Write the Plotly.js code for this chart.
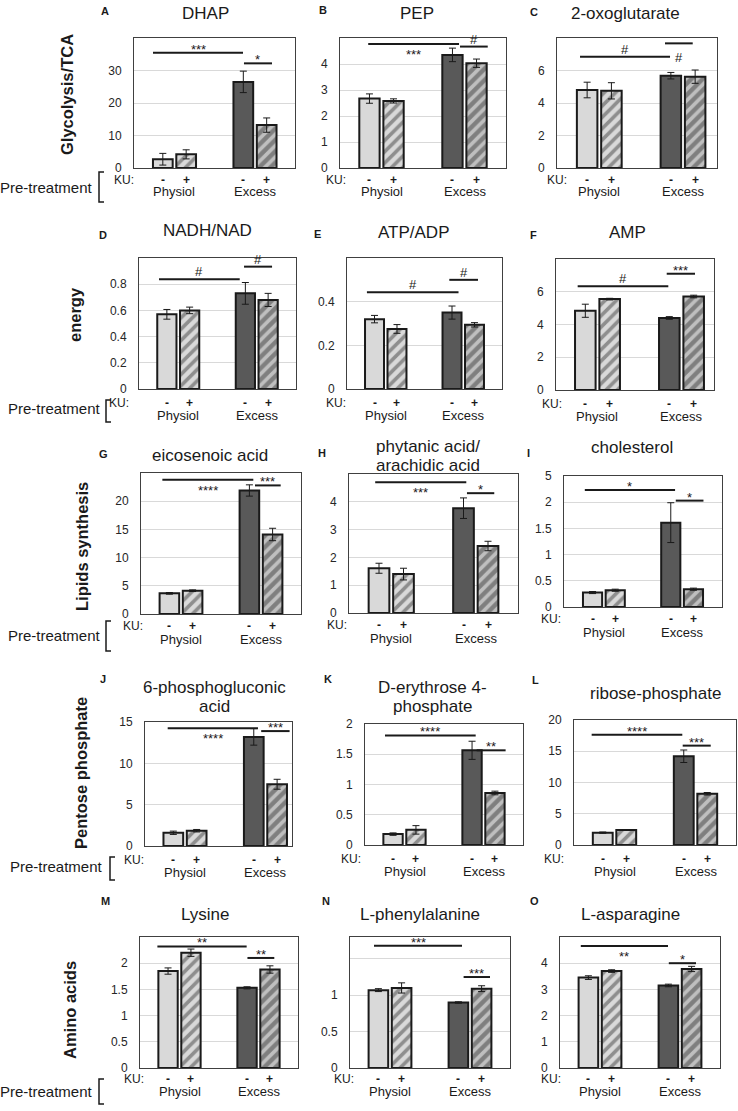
<!DOCTYPE html>
<html><head><meta charset="utf-8">
<script src="https://cdn.plot.ly/plotly-3.0.1.min.js"></script>
<style>html,body{margin:0;padding:0;background:#fff;}#chart{width:738px;height:1111px;}</style>
</head><body><div id="chart"></div>
<script>
const W = 738, H = 1111;
const FONT = 'Liberation Sans, Arial, sans-serif';

// ---------- data ----------
const categories = ['Physiol', 'Excess'];
const kuSigns = ['-', '+'];
const panelLetters = ['A','B','C','D','E','F','G','H','I','J','K','L','M','N','O'];
const panelTitles = ['DHAP','PEP','2-oxoglutarate','NADH/NAD','ATP/ADP','AMP','eicosenoic acid',
  'phytanic acid/<br>arachidic acid','cholesterol','6-phosphogluconic<br>acid','D-erythrose 4-<br>phosphate',
  'ribose-phosphate','Lysine','L-phenylalanine','L-asparagine'];
const rowLabels = ['Glycolysis/TCA','energy','Lipids synthesis','Pentose phosphate','Amino acids'];

// bar order: Physiol KU-, Physiol KU+, Excess KU-, Excess KU+
const dhapMean = [2.7, 4.2, 26.5, 13.2],   dhapErr = [1.8, 1.4, 3.3, 2.2];
const pepMean  = [2.67, 2.58, 4.35, 4.03], pepErr  = [0.18, 0.08, 0.26, 0.16];
const oxoMean  = [4.8, 4.75, 5.68, 5.62],  oxoErr  = [0.48, 0.5, 0.2, 0.41];
const nadhMean = [0.57, 0.6, 0.73, 0.68],  nadhErr = [0.037, 0.025, 0.083, 0.05];
const atpMean  = [0.32, 0.275, 0.35, 0.294], atpErr = [0.017, 0.02, 0.03, 0.01];
const ampMean  = [4.84, 5.55, 4.4, 5.71],  ampErr  = [0.4, 0.05, 0.08, 0.08];
const eicoMean = [3.66, 4.13, 21.9, 14.1], eicoErr = [0.15, 0.15, 1.0, 1.1];
const phytMean = [1.61, 1.4, 3.77, 2.41],  phytErr = [0.18, 0.21, 0.37, 0.17];
const cholMean = [0.276, 0.32, 1.61, 0.34], cholErr = [0.02, 0.02, 0.38, 0.02];
const pgaMean  = [1.6, 1.85, 13.2, 7.47],  pgaErr  = [0.2, 0.15, 1.0, 0.6];
const e4pMean  = [0.18, 0.25, 1.565, 0.86], e4pErr = [0.02, 0.07, 0.15, 0.03];
const ribMean  = [1.98, 2.4, 14.2, 8.2],   ribErr  = [0.1, 0.05, 1.0, 0.2];
const lysMean  = [1.85, 2.2, 1.53, 1.88],  lysErr  = [0.06, 0.07, 0.02, 0.07];
const pheMean  = [1.07, 1.1, 0.9, 1.09],   pheErr  = [0.02, 0.07, 0.01, 0.04];
const asnMean  = [3.45, 3.7, 3.15, 3.78],  asnErr  = [0.07, 0.05, 0.05, 0.1];

const sigLabels = [['***','*'],['***','#'],['#','#'],['#','#'],['#','#'],['#','***'],
  ['****','***'],['***','*'],['*','*'],['****','***'],['****','**'],['****','***'],
  ['**','**'],['***','***'],['**','*']];

const means = [dhapMean,pepMean,oxoMean,nadhMean,atpMean,ampMean,eicoMean,phytMean,cholMean,pgaMean,e4pMean,ribMean,lysMean,pheMean,asnMean];
const errs  = [dhapErr,pepErr,oxoErr,nadhErr,atpErr,ampErr,eicoErr,phytErr,cholErr,pgaErr,e4pErr,ribErr,lysErr,pheErr,asnErr];

// ---------- layout geometry (pixels) ----------
const panels = [
 {l:134,r:295,t:38,b:168,xr:[-0.503,1.497],yMax:40,dt:10},
 {l:340,r:506,t:38,b:168,xr:[-0.5,1.5],yMax:5,dt:1},
 {l:557,r:717,t:38,b:168,xr:[-0.505,1.406],yMax:8,dt:2},
 {l:139,r:296,t:258,b:389,xr:[-0.5,1.5],yMax:1,dt:0.2},
 {l:347,r:502,t:258,b:389,xr:[-0.5,1.5],yMax:0.6,dt:0.2},
 {l:556,r:714,t:259,b:390,xr:[-0.494,1.387],yMax:8,dt:2},
 {l:141,r:301,t:473,b:614,xr:[-0.5,1.5],yMax:25,dt:5},
 {l:349,r:518,t:474,b:613,xr:[-0.5,1.5],yMax:5,dt:1},
 {l:564,r:722,t:476,b:607,xr:[-0.51,1.51],yMax:2.5,dt:0.5,topLabel:'5'},
 {l:145,r:292,t:722,b:846,xr:[-0.497,1.33],yMax:15,dt:5,topLabel:'15'},
 {l:365,r:523,t:724,b:845,xr:[-0.5,1.5],yMax:2,dt:0.5,topLabel:'2'},
 {l:574,r:736,t:720,b:845,xr:[-0.5,1.5],yMax:20,dt:5,topLabel:'20'},
 {l:140,r:298,t:937,b:1068,xr:[-0.5,1.5],yMax:2.5,dt:0.5},
 {l:350,r:510,t:937,b:1068,xr:[-0.5,1.5],yMax:1.8,dt:0.5,hideAbove:1},
 {l:560,r:720,t:937,b:1068,xr:[-0.5,1.5],yMax:5,dt:1}
];
const kuRight = [135,347,568,130,347,563,144,348,562,145,362,565,145,355,562];
const titlePos = [[205,14],[417,14],[625,14],[207,231],[413,232],[627,232],[210,455],[428,456],[632,448],
  [215,697],[432,697],[655,693],[205,914],[420,914],[630,914]];
const letterPos = [[105,11],[323,10],[534,12],[103,235],[317,234],[533,235],[103,454],[322,453],[528,453],
  [103,679],[328,679],[535,680],[105,901],[326,901],[534,901]];
// significance brackets: [x0, x1, y (data units), text above 'a' / below 'b']
const sigGeom = [
 [[-0.267,0.851,35.5,'a'],[0.863,1.211,32.2,'a']],
 [[-0.16,0.934,4.77,'b'],[0.946,1.28,4.67,'a']],
 [[-0.23,0.845,6.85,'a'],[0.785,1.116,7.67,'b']],
 [[-0.245,0.783,0.837,'a'],[0.838,1.195,0.934,'a']],
 [[-0.243,0.939,0.443,'a'],[0.82,1.19,0.5,'a']],
 [[-0.236,0.843,6.33,'a'],[0.824,1.161,7.1,'a']],
 [[-0.233,0.904,23.8,'b'],[0.925,1.246,22.8,'a']],
 [[-0.19,0.888,4.7,'b'],[0.896,1.219,4.31,'a']],
 [[-0.244,0.91,2.235,'a'],[0.919,1.273,2.03,'a']],
 [[-0.215,0.907,14.25,'b'],[0.947,1.3,13.9,'a']],
 [[-0.247,0.901,1.81,'a'],[0.914,1.28,1.565,'a']],
 [[-0.282,0.837,17.66,'a'],[0.842,1.188,15.9,'a']],
 [[-0.28,0.85,2.32,'a'],[0.86,1.2,2.1,'a']],
 [[-0.2,0.9,1.68,'a'],[0.92,1.25,1.25,'a']],
 [[-0.24,0.85,4.66,'b'],[0.86,1.2,4.0,'a']]
];
const rowGeom = [
 {ku:12,cat:24,ptY:188,ptR:95,brX:99,brT:172,brB:202,rlX:67,rlY:95},
 {ku:14,cat:26,ptY:408,ptR:103,brX:106,brT:400,brB:422,rlX:75,rlY:315},
 {ku:12,cat:25,ptY:635,ptR:103,brX:106,brT:621,brB:651,rlX:82,rlY:547},
 {ku:14,cat:26,ptY:866,ptR:105,brX:110,brT:857,brB:880,rlX:81,rlY:773},
 {ku:11,cat:23,ptY:1091,ptR:95,brX:99,brT:1079,brB:1104,rlX:70,rlY:1010}
];

const px = x => x / W, py = y => 1 - y / H;
const barOffset = [-0.145, 0.145];
const baseColors = ['#d9d9d9','#d9d9d9','#595959','#7f7f7f'];
const stripeColors = ['#d9d9d9','#a6a6a6','#595959','#d0d0d0'];
const shapesPat = ['','/','','/'];

const traces = [], annotations = [], shapes = [];
const layout = {width:W, height:H, margin:{l:0,r:0,t:0,b:0}, paper_bgcolor:'#fff', plot_bgcolor:'#fff',
  showlegend:false, font:{family:FONT, color:'#1a1a1a'}, bargap:0};

panels.forEach((p, i) => {
  const n = i + 1, xa = 'x' + (n===1?'':n), ya = 'y' + (n===1?'':n);
  const xs = means[i].map((_, k) => Math.floor(k/2) + barOffset[k%2]);
  traces.push({type:'bar', x:xs, y:means[i], width:0.245, xaxis:xa, yaxis:ya, hoverinfo:'skip',
    marker:{color:baseColors, line:{color:'#1a1a1a', width:2},
      pattern:{shape:shapesPat, fgcolor:stripeColors, size:8, solidity:0.45, fillmode:'overlay'}},
    error_y:{type:'data', array:errs[i], visible:true, color:'#1a1a1a', thickness:1, width:3.5}});
  const tv = [], tt = [];
  const nt = Math.round(p.yMax / p.dt);
  for (let k = 0; k < nt; k++) {
    const v = Math.round(k*p.dt*1e6)/1e6; tv.push(v);
    tt.push(p.hideAbove !== undefined && v > p.hideAbove ? '' : String(v));
  }
  if (p.topLabel) { tv.push(p.yMax); tt.push(p.topLabel); }
  layout['xaxis' + (n===1?'':n)] = {domain:[px(p.l), px(p.r)], range:p.xr, anchor:ya, showgrid:false, zeroline:false,
    showticklabels:false, ticks:'', showline:true, mirror:true, linecolor:'#404040', linewidth:1, fixedrange:true};
  layout['yaxis' + (n===1?'':n)] = {domain:[py(p.b), py(p.t)], range:[0, p.yMax], anchor:xa, tickvals:tv, ticktext:tt,
    showgrid:true, gridcolor:'#d9d9d9', gridwidth:1, zeroline:false, showline:true, mirror:true, linecolor:'#404040',
    linewidth:1, ticks:'', ticklabelstandoff:9, tickfont:{size:12, color:'#262626', family:FONT}, fixedrange:true};

  const row = rowGeom[Math.floor(i/3)];
  const lines = panelTitles[i].split('<br>');
  lines.forEach((ln, j) => {
    const yC = titlePos[i][1] + (j - (lines.length-1)/2) * 19;
    annotations.push({xref:'paper', yref:'paper', x:px(titlePos[i][0]), y:py(yC), text:ln, showarrow:false,
      xanchor:'center', yanchor:'middle', font:{size:17, color:'#1a1a1a'}});
  });
  annotations.push({xref:'paper', yref:'paper', x:px(letterPos[i][0]), y:py(letterPos[i][1]), text:'<b>'+panelLetters[i]+'</b>',
    showarrow:false, xanchor:'center', yanchor:'middle', font:{size:11, color:'#1a1a1a'}});
  annotations.push({xref:'paper', yref:'paper', x:px(kuRight[i]), y:py(p.b + row.ku), text:'KU:', showarrow:false,
    xanchor:'right', yanchor:'middle', borderpad:0, font:{size:12, color:'#1a1a1a'}});
  xs.forEach((xv, k) => {
    annotations.push({xref:xa, yref:'paper', x:xv, y:py(p.b + row.ku), text:'<b>'+kuSigns[k%2]+'</b>', showarrow:false,
      xanchor:'center', yanchor:'middle', borderpad:0, font:{size:12, color:'#1a1a1a'}});
  });
  categories.forEach((c, k) => {
    annotations.push({xref:xa, yref:'paper', x:k, y:py(p.b + row.cat), text:c, showarrow:false,
      xanchor:'center', yanchor:'middle', borderpad:0, font:{size:13, color:'#1a1a1a'}});
  });
  sigGeom[i].forEach((g, k) => {
    shapes.push({type:'line', xref:xa, yref:ya, x0:g[0], x1:g[1], y0:g[2], y1:g[2], line:{color:'#1a1a1a', width:2}});
    const lab = sigLabels[i][k];
    const star = lab.indexOf('*') >= 0;
    annotations.push({xref:xa, yref:ya, x:(g[0]+g[1])/2, y:g[2], text:lab, showarrow:false, xanchor:'center',
      yanchor: g[3]==='a' ? 'bottom' : 'top', yshift: g[3]==='a' ? (star ? -6 : -2) : (star ? -1 : -5),
      font:{size:13, color:'#1a1a1a'}});
  });
});

rowGeom.forEach((r, k) => {
  annotations.push({xref:'paper', yref:'paper', x:px(r.rlX), y:py(r.rlY), text:'<b>'+rowLabels[k]+'</b>', textangle:-90,
    showarrow:false, xanchor:'center', yanchor:'middle', font:{size:16.5, color:'#1a1a1a'}});
  annotations.push({xref:'paper', yref:'paper', x:px(r.ptR), y:py(r.ptY), text:'Pre-treatment', showarrow:false,
    xanchor:'right', yanchor:'middle', font:{size:15, color:'#1a1a1a'}});
  shapes.push({type:'path', xref:'paper', yref:'paper',
    path:`M ${px(r.brX+5)} ${py(r.brT)} L ${px(r.brX)} ${py(r.brT)} L ${px(r.brX)} ${py(r.brB)} L ${px(r.brX+5)} ${py(r.brB)}`,
    line:{color:'#1a1a1a', width:1.5}});
});

layout.annotations = annotations;
layout.shapes = shapes;
Plotly.newPlot('chart', traces, layout, {staticPlot:true, displayModeBar:false});
</script></body></html>
